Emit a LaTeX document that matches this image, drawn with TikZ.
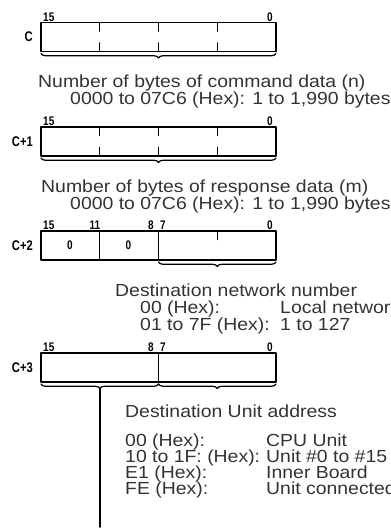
\documentclass[tikz,border=0pt]{standalone}
\usepackage{fontspec}
\setmainfont{Liberation Sans}
\newfontfamily\widesans{Liberation Sans}[FakeStretch=1.11]
\usetikzlibrary{decorations.pathreplacing}
\tikzset{
  every picture/.style={line join=round, line cap=round},
  regline/.style={line width=1.6pt},
  brc/.style={decorate, decoration={brace, amplitude=4.5pt, mirror}, line width=1.2pt},
  txt/.style={anchor=base west, inner sep=0pt, text=black!80, font=\widesans\fontsize{17.5}{17.5}\selectfont},
  bitlbl/.style={inner sep=0pt, font=\bfseries\fontsize{12.5}{12.5}\selectfont},
  reglbl/.style={anchor=east, inner sep=0pt, font=\bfseries\fontsize{14}{14}\selectfont},
}
\newcommand{\narrow}[1]{\scalebox{0.8}[1]{#1}}

\begin{document}
\begin{tikzpicture}[x=1pt,y=-1pt]
\useasboundingbox (0,0) rectangle (391,528);
% word C
\draw[regline] (41,22.5) rectangle (276,51.5);
\foreach \xx in {99.5,158.5,217.5}
  \draw[regline] (\xx,22.5)--(\xx,31) (\xx,43)--(\xx,51.5);
\node[reglbl] (cname) at (33,37) {\narrow{C}};
\node[bitlbl,anchor=base west] (chi) at (43,21) {\narrow{15}};
\node[bitlbl,anchor=base east] (clo) at (273,21) {\narrow{0}};
\draw[brc] (41,53.5)--(276,53.5);
\node[txt] (cmdtitle) at (38,87.5) {Number of bytes of command data (n)};
\node[txt] (cmdrange) at (70,104.5) {0000 to 07C6 (Hex): 1 to 1,990 bytes};
% word C+1
\draw[regline] (41,127) rectangle (276,156);
\foreach \xx in {99.5,158.5,217.5}
  \draw[regline] (\xx,127)--(\xx,135.5) (\xx,147.5)--(\xx,156);
\node[reglbl] (c1name) at (33,141.5) {\narrow{C+1}};
\node[bitlbl,anchor=base west] (c1hi) at (43,125.5) {\narrow{15}};
\node[bitlbl,anchor=base east] (c1lo) at (273,125.5) {\narrow{0}};
\draw[brc] (41,158)--(276,158);
\node[txt] (rsptitle) at (41,192) {Number of bytes of response data (m)};
\node[txt] (rsprange) at (70,209) {0000 to 07C6 (Hex): 1 to 1,990 bytes};
% word C+2
\draw[regline] (41,231) rectangle (276,260);
\draw[regline] (99.5,231)--(99.5,260) (158.5,231)--(158.5,260) (217.5,231)--(217.5,239.5);
\node[reglbl] (c2name) at (33,245.5) {\narrow{C+2}};
\node[bitlbl,anchor=base west] (c2b15) at (43,229.5) {\narrow{15}};
\node[bitlbl,anchor=base east] (c2b11) at (100.5,229.5) {\narrow{11}};
\node[bitlbl,anchor=base east] (c2b8) at (154,229.5) {\narrow{8}};
\node[bitlbl,anchor=base west] (c2b7) at (160,229.5) {\narrow{7}};
\node[bitlbl,anchor=base east] (c2b0) at (273,229.5) {\narrow{0}};
\node[bitlbl] (c2zhi) at (70,245.5) {\narrow{0}};
\node[bitlbl] (c2zlo) at (128.5,245.5) {\narrow{0}};
\draw[brc] (158.5,262)--(276,262);
\node[txt] (nettitle) at (115,296) {Destination network number};
\node[txt] (netkey1) at (140,313) {00 (Hex):};
\node[txt] (netval1) at (280,313) {Local networ};
\node[txt] (netkey2) at (140,330) {01 to 7F (Hex):};
\node[txt] (netval2) at (280,330) {1 to 127};
% word C+3
\draw[regline] (41,353) rectangle (276,382) (158.5,353)--(158.5,382);
\node[reglbl] (c3name) at (33,367.5) {\narrow{C+3}};
\node[bitlbl,anchor=base west] (c3b15) at (43,351.5) {\narrow{15}};
\node[bitlbl,anchor=base east] (c3b8) at (154,351.5) {\narrow{8}};
\node[bitlbl,anchor=base west] (c3b7) at (160,351.5) {\narrow{7}};
\node[bitlbl,anchor=base east] (c3b0) at (273,351.5) {\narrow{0}};
\draw[brc] (41,384)--(158.5,384);
\draw[brc] (158.5,384)--(276,384);
\coordinate (unittip) at (99.75,389);
\coordinate (unitend) at (99.75,527);
\draw[line width=1.6pt] (unittip)--(unitend);
\node[txt] (unittitle) at (125,417) {Destination Unit address};
\node[txt] (unitkey1) at (125,446.5) {00 (Hex):};
\node[txt] (unitval1) at (266,446.5) {CPU Unit};
\node[txt] (unitkey2) at (125,462.5) {10 to 1F: (Hex):};
\node[txt] (unitval2) at (266,462.5) {Unit \#0 to \#15};
\node[txt] (unitkey3) at (125,478.5) {E1 (Hex):};
\node[txt] (unitval3) at (266,478.5) {Inner Board};
\node[txt] (unitkey4) at (125,494.5) {FE (Hex):};
\node[txt] (unitval4) at (266,494.5) {Unit connected};
\end{tikzpicture}
\end{document}
